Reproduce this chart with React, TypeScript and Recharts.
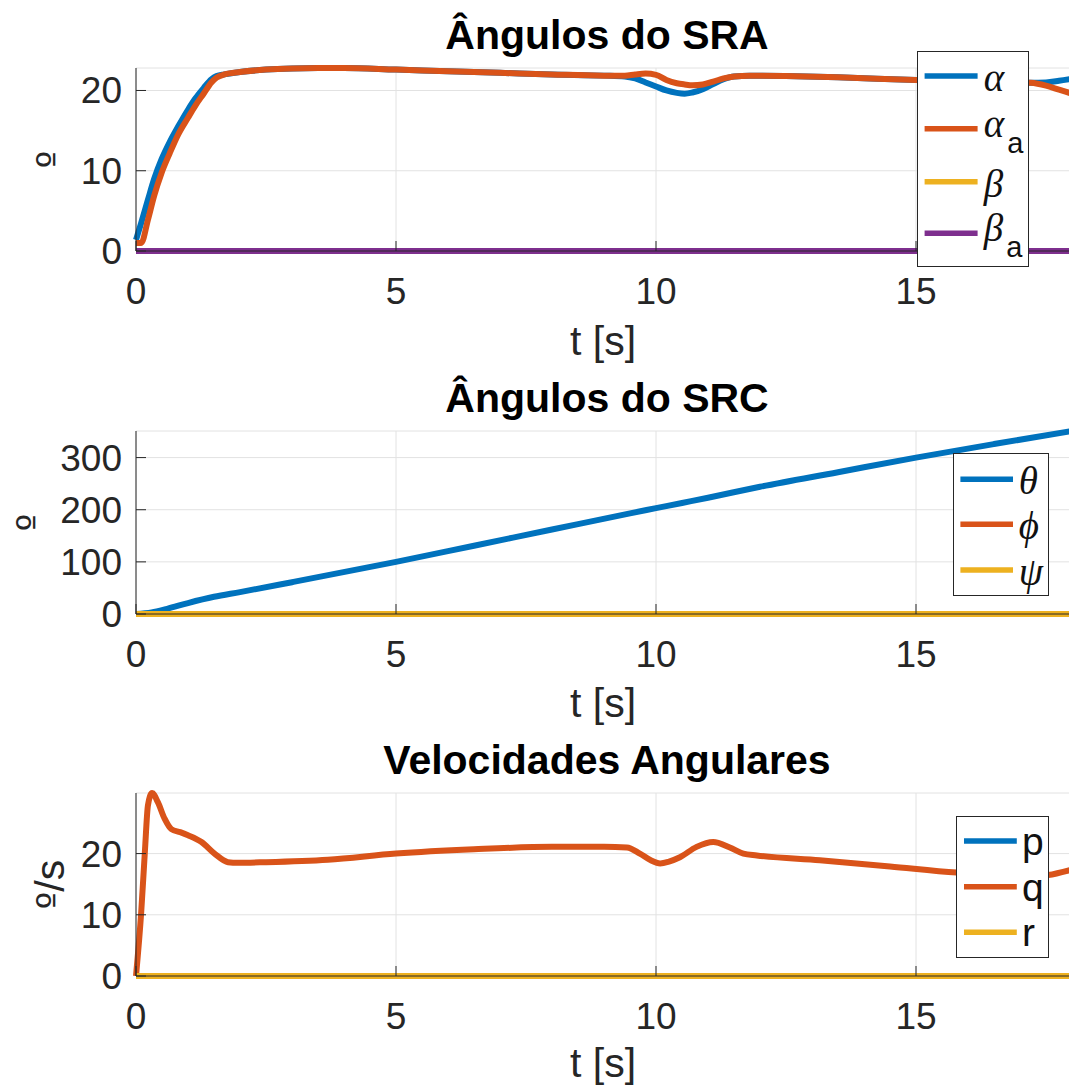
import React from 'react';
import { LineChart, Line, XAxis, YAxis, CartesianGrid, Legend } from 'recharts';

const FONT = '"Liberation Sans", Arial, Helvetica, sans-serif';
const SERIF = '"Liberation Serif", "Times New Roman", serif';
const ORD_FONT = '"DejaVu Sans", "Noto Sans", sans-serif';
const AX = '#262626';
const GRID = '#e2e2e2';
const BLUE = '#0072BD';
const RED = '#D95319';
const YEL = '#EDB120';
const PUR = '#7E2F8E';
const TICK_FS = 37;
const LABEL_FS = 41;
const TITLE_FS = 41;
const TICK_LEN = 10;
const LINE_W = 6;

// ---------- shared axis ----------
const xTicks = [0, 5, 10, 15];
const xDomain = [0, 18];

// ---------- Ângulos do SRA ----------
const tSRA = [0, 0.1, 0.23, 0.35, 0.49, 0.65, 0.81, 1.0, 1.13, 1.3, 1.45, 1.55, 1.7, 2.0, 2.5, 3.0, 3.5, 4.0, 5.0, 6.0, 7.0, 8.0, 9.0, 9.4, 9.6, 9.8, 10.0, 10.2, 10.4, 10.55, 10.7, 10.9, 11.1, 11.3, 11.5, 11.8, 12.5, 13.5, 15.0, 16.0, 17.0, 17.2, 17.5, 17.75, 18.0];
const alpha = [1.4, 3.5, 6.4, 9.0, 11.4, 13.6, 15.5, 17.6, 18.9, 20.3, 21.4, 21.8, 22.0, 22.3, 22.6, 22.75, 22.8, 22.8, 22.6, 22.4, 22.2, 22.0, 21.85, 21.75, 21.5, 21.0, 20.5, 20.0, 19.7, 19.6, 19.75, 20.15, 20.8, 21.4, 21.75, 21.85, 21.8, 21.65, 21.3, 21.15, 21.0, 20.95, 21.0, 21.2, 21.45];
const alphaA = [1.0, 1.0, 3.9, 6.9, 9.7, 12.2, 14.5, 16.6, 18.0, 19.6, 21.0, 21.6, 22.0, 22.3, 22.6, 22.75, 22.8, 22.8, 22.6, 22.4, 22.2, 22.0, 21.85, 21.85, 22.0, 22.1, 21.95, 21.3, 20.9, 20.75, 20.65, 20.75, 21.1, 21.5, 21.75, 21.85, 21.8, 21.65, 21.3, 21.15, 21.0, 20.95, 20.6, 20.1, 19.6];
const beta = [0, 0, 0, 0, 0, 0, 0, 0, 0, 0, 0, 0, 0, 0, 0, 0, 0, 0, 0, 0, 0, 0, 0, 0, 0, 0, 0, 0, 0, 0, 0, 0, 0, 0, 0, 0, 0, 0, 0, 0, 0, 0, 0, 0, 0];
const betaA = [0, 0, 0, 0, 0, 0, 0, 0, 0, 0, 0, 0, 0, 0, 0, 0, 0, 0, 0, 0, 0, 0, 0, 0, 0, 0, 0, 0, 0, 0, 0, 0, 0, 0, 0, 0, 0, 0, 0, 0, 0, 0, 0, 0, 0];
const sraYTicks = [0, 10, 20];
const sraYDomain = [0, 22.8];

// ---------- Ângulos do SRC ----------
const tSRC = [0, 0.3, 0.6, 1.0, 1.5, 2.0, 3.0, 5.0, 6.5, 8.0, 9.5, 10.0, 10.5, 11.0, 12.0, 13.5, 15.0, 16.5, 18.0];
const theta = [0, 3, 10, 21, 33, 42, 61, 100, 131, 162, 193, 203, 213, 223, 244, 272, 300, 326, 351];
const phi = [0, 0, 0, 0, 0, 0, 0, 0, 0, 0, 0, 0, 0, 0, 0, 0, 0, 0, 0];
const psi = [0, 0, 0, 0, 0, 0, 0, 0, 0, 0, 0, 0, 0, 0, 0, 0, 0, 0, 0];
const srcYTicks = [0, 100, 200, 300];
const srcYDomain = [0, 351];

// ---------- Velocidades Angulares ----------
const tVel = [0, 0.1, 0.17, 0.23, 0.31, 0.42, 0.55, 0.68, 0.85, 1.0, 1.26, 1.51, 1.77, 1.96, 2.5, 3.69, 5.0, 6.5, 8.0, 9.0, 9.44, 9.69, 9.9, 10.08, 10.25, 10.46, 10.78, 11.1, 11.42, 11.68, 11.94, 13.15, 14.5, 15.78, 16.5, 17.2, 17.54, 18.0];
const pRate = [0, 0, 0, 0, 0, 0, 0, 0, 0, 0, 0, 0, 0, 0, 0, 0, 0, 0, 0, 0, 0, 0, 0, 0, 0, 0, 0, 0, 0, 0, 0, 0, 0, 0, 0, 0, 0, 0];
const qRate = [0, 10.4, 20.2, 27.9, 29.9, 28.4, 25.7, 24.0, 23.5, 23.0, 21.9, 20.0, 18.6, 18.5, 18.6, 19.0, 20.0, 20.7, 21.1, 21.1, 21.0, 20.0, 18.9, 18.4, 18.7, 19.4, 21.1, 21.9, 21.0, 20.0, 19.7, 18.9, 17.9, 16.9, 16.6, 16.3, 16.5, 17.4];
const rRate = [0, 0, 0, 0, 0, 0, 0, 0, 0, 0, 0, 0, 0, 0, 0, 0, 0, 0, 0, 0, 0, 0, 0, 0, 0, 0, 0, 0, 0, 0, 0, 0, 0, 0, 0, 0, 0, 0];
const velYTicks = [0, 10, 20];
const velYDomain = [0, 29.9];

// ---------- legend labels ----------
type LegendLabel = { key: string; base: string; sub?: string; serif: boolean };
const sraLabels: LegendLabel[] = [
  { key: 'alpha', base: 'α', serif: true },
  { key: 'alphaA', base: 'α', sub: 'a', serif: true },
  { key: 'beta', base: 'β', serif: true },
  { key: 'betaA', base: 'β', sub: 'a', serif: true },
];
const srcLabels: LegendLabel[] = [
  { key: 'theta', base: 'θ', serif: true },
  { key: 'phi', base: 'ϕ', serif: true },
  { key: 'psi', base: 'ψ', serif: true },
];
const velLabels: LegendLabel[] = [
  { key: 'p', base: 'p', serif: false },
  { key: 'q', base: 'q', serif: false },
  { key: 'r', base: 'r', serif: false },
];

const sraRows = tSRA.map((t, i) => ({ t, alpha: alpha[i], alphaA: alphaA[i], beta: beta[i], betaA: betaA[i] }));
const srcRows = tSRC.map((t, i) => ({ t, theta: theta[i], phi: phi[i], psi: psi[i] }));
const velRows = tVel.map((t, i) => ({ t, p: pRate[i], q: qRate[i], r: rRate[i] }));

// ---------- ticks ----------
const BottomTick = (props: any) => {
  const { x, y, payload } = props;
  return (
    <g>
      <line x1={x} x2={x} y1={y} y2={y - TICK_LEN} stroke={AX} strokeWidth={1} />
      <text x={x} y={y + 53} textAnchor="middle" fontSize={TICK_FS} fontFamily={FONT} fill={AX}>
        {payload.value}
      </text>
    </g>
  );
};
const TopTick = (props: any) => {
  const { x, y } = props;
  return <line x1={x} x2={x} y1={y} y2={y + TICK_LEN} stroke={AX} strokeWidth={1} />;
};
const LeftTick = (props: any) => {
  const { x, y, payload } = props;
  return (
    <g>
      <line x1={x} x2={x + TICK_LEN} y1={y} y2={y} stroke={AX} strokeWidth={1} />
      <text x={x - 14} y={y + 13} textAnchor="end" fontSize={TICK_FS} fontFamily={FONT} fill={AX}>
        {payload.value}
      </text>
    </g>
  );
};
const RightTick = (props: any) => {
  const { x, y } = props;
  return <line x1={x} x2={x - TICK_LEN} y1={y} y2={y} stroke={AX} strokeWidth={1} />;
};

type LegendCfg = { left: number; top: number; w: number; h: number; entryY: number[]; lineX1: number; lineX2: number; textX: number };

const renderLegend = (payload: any[], labels: LegendLabel[], cfg: LegendCfg) => {
  const items = payload || [];
  return (
    <svg width={cfg.w} height={cfg.h} style={{ display: 'block' }}>
      <rect x={0.5} y={0.5} width={cfg.w - 1} height={cfg.h - 1} fill="#ffffff" stroke={AX} strokeWidth={1} />
      {labels.map((lab, i) => {
        const item = items.find((it: any) => it.dataKey === lab.key);
        const color = item ? item.color : '#000';
        const ly = cfg.entryY[i];
        const ty = lab.sub ? ly + 8 : lab.serif ? ly + 15 : ly + 14;
        return (
          <g key={lab.key}>
            <line x1={cfg.lineX1} x2={cfg.lineX2} y1={ly} y2={ly} stroke={color} strokeWidth={5.5} />
            <text
              x={cfg.textX}
              y={ty}
              fontSize={39}
              fontFamily={lab.serif ? SERIF : FONT}
              fontStyle={lab.serif ? 'italic' : 'normal'}
              fill="#111"
            >
              {lab.base}
              {lab.sub ? (
                <tspan dx={3} dy={16} fontFamily={FONT} fontStyle="normal" fontSize={29}>
                  {lab.sub}
                </tspan>
              ) : null}
            </text>
          </g>
        );
      })}
    </svg>
  );
};

type SeriesDef = { key: string; name: string; color: string };

type PanelProps = {
  top: number;
  height: number;
  marginTop: number;
  xAxisHeight: number;
  title: string;
  ylabelSuffix: string;
  ylabelX: number;
  xlabelDy: number;
  rows: any[];
  series: SeriesDef[];
  yTicks: number[];
  yDomain: number[];
  labels: LegendLabel[];
  legend: LegendCfg;
};

const CHART_W = 1100;
const PLOT_LEFT = 136;
const PLOT_RIGHT = 1072;

const Panel = (p: PanelProps) => {
  const plotTop = p.marginTop;
  const plotBottom = p.height - p.xAxisHeight;
  const cx = (PLOT_LEFT + PLOT_RIGHT) / 2;
  const cy = (plotTop + plotBottom) / 2;
  return (
    <div style={{ position: 'absolute', left: 0, top: p.top }}>
      <LineChart
        width={CHART_W}
        height={p.height}
        data={p.rows}
        margin={{ top: p.marginTop, right: CHART_W - PLOT_RIGHT, bottom: 0, left: 0 }}
      >
        <CartesianGrid stroke={GRID} strokeWidth={1} />
        <XAxis
          dataKey="t"
          type="number"
          domain={xDomain}
          ticks={xTicks}
          interval={0}
          height={p.xAxisHeight}
          tick={BottomTick}
          tickLine={false}
          tickSize={0}
          tickMargin={0}
          axisLine={{ stroke: AX, strokeWidth: 1 }}
        />
        <XAxis
          xAxisId="top"
          dataKey="t"
          orientation="top"
          type="number"
          domain={xDomain}
          ticks={xTicks}
          interval={0}
          allowDataOverflow
          height={0}
          tick={TopTick}
          tickLine={false}
          tickSize={0}
          tickMargin={0}
          axisLine={{ stroke: AX, strokeWidth: 1 }}
        />
        <YAxis
          type="number"
          domain={p.yDomain}
          ticks={p.yTicks}
          interval={0}
          width={PLOT_LEFT}
          tick={LeftTick}
          tickLine={false}
          tickSize={0}
          tickMargin={0}
          axisLine={{ stroke: AX, strokeWidth: 1 }}
        />
        <YAxis
          yAxisId="right"
          orientation="right"
          type="number"
          domain={p.yDomain}
          ticks={p.yTicks}
          interval={0}
          allowDataOverflow
          width={0}
          tick={RightTick}
          tickLine={false}
          tickSize={0}
          tickMargin={0}
          axisLine={{ stroke: AX, strokeWidth: 1 }}
        />
        {p.series.map((s) => (
          <Line
            key={s.key}
            type="monotone"
            dataKey={s.key}
            name={s.name}
            stroke={s.color}
            strokeWidth={LINE_W}
            dot={false}
            activeDot={false}
            isAnimationActive={false}
          />
        ))}
        <Legend
          layout="vertical"
          align="center"
          verticalAlign="middle"
          wrapperStyle={{ left: p.legend.left, top: p.legend.top, width: p.legend.w, height: p.legend.h }}
          content={(props: any) => renderLegend(props.payload, p.labels, p.legend)}
        />
        <text x={cx + 3} y={plotTop - 19} textAnchor="middle" fontSize={TITLE_FS} fontWeight="bold" fontFamily={FONT} fill="#000">
          {p.title}
        </text>
        <text x={603} y={plotBottom + p.xlabelDy} textAnchor="middle" fontSize={LABEL_FS} fontFamily={FONT} fill={AX}>
          t [s]
        </text>
        <text
          x={p.ylabelX}
          y={cy}
          transform={`rotate(-90 ${p.ylabelX} ${cy})`}
          textAnchor="middle"
          fontSize={LABEL_FS}
          fontFamily={FONT}
          fill={AX}
        >
          <tspan fontFamily={ORD_FONT} fontSize={LABEL_FS - 4}>º</tspan>
          {p.ylabelSuffix}
        </text>
      </LineChart>
    </div>
  );
};

export default function App() {
  return (
    <div style={{ position: 'absolute', left: 0, top: 0, width: 1069, height: 1088, overflow: 'hidden', background: '#fff' }}>
      <Panel
        top={0}
        height={374}
        marginTop={68}
        xAxisHeight={123}
        title="Ângulos do SRA"
        ylabelSuffix=""
        ylabelX={64}
        xlabelDy={104}
        rows={sraRows}
        series={[
          { key: 'alpha', name: 'α', color: BLUE },
          { key: 'alphaA', name: 'α_a', color: RED },
          { key: 'beta', name: 'β', color: YEL },
          { key: 'betaA', name: 'β_a', color: PUR },
        ]}
        yTicks={sraYTicks}
        yDomain={sraYDomain}
        labels={sraLabels}
        legend={{ left: 917, top: 51, w: 112, h: 216, entryY: [25, 77.7, 130.7, 182.3], lineX1: 7.6, lineX2: 60.6, textX: 66.8 }}
      />
      <Panel
        top={362}
        height={374}
        marginTop={69}
        xAxisHeight={122}
        title="Ângulos do SRC"
        ylabelSuffix=""
        ylabelX={44}
        xlabelDy={103}
        rows={srcRows}
        series={[
          { key: 'theta', name: 'θ', color: BLUE },
          { key: 'phi', name: 'ϕ', color: RED },
          { key: 'psi', name: 'ψ', color: YEL },
        ]}
        yTicks={srcYTicks}
        yDomain={srcYDomain}
        labels={srcLabels}
        legend={{ left: 953, top: 91, w: 96, h: 143, entryY: [26.3, 71.3, 117], lineX1: 7.4, lineX2: 60, textX: 65.8 }}
      />
      <Panel
        top={724}
        height={376}
        marginTop={69}
        xAxisHeight={124}
        title="Velocidades Angulares"
        ylabelSuffix="/s"
        ylabelX={64}
        xlabelDy={101}
        rows={velRows}
        series={[
          { key: 'p', name: 'p', color: BLUE },
          { key: 'q', name: 'q', color: RED },
          { key: 'r', name: 'r', color: YEL },
        ]}
        yTicks={velYTicks}
        yDomain={velYDomain}
        labels={velLabels}
        legend={{ left: 956, top: 92, w: 93, h: 142, entryY: [25, 70.7, 116.3], lineX1: 8, lineX2: 60.8, textX: 66 }}
      />
    </div>
  );
}
